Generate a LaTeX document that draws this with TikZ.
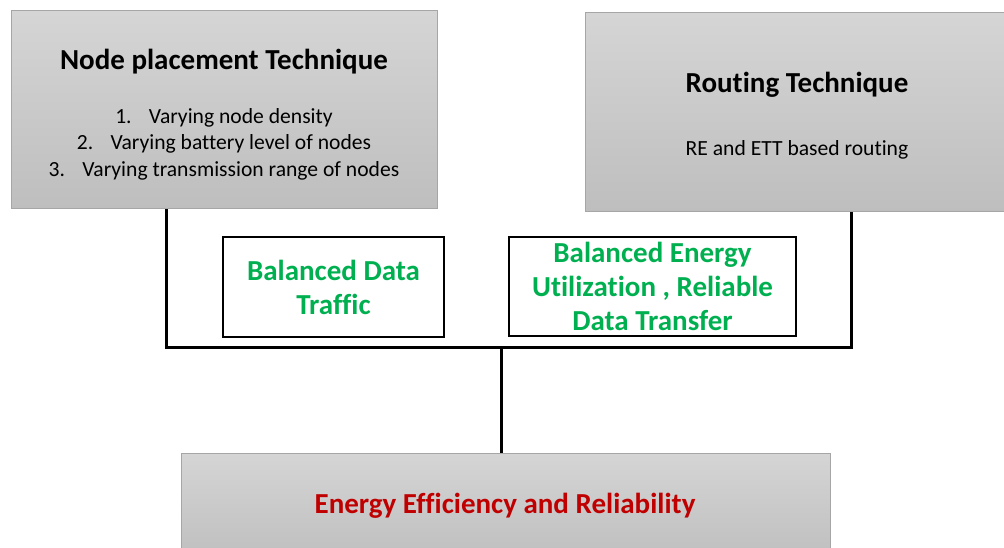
\documentclass[tikz,border=0pt]{standalone}
\usepackage{fontspec}
\setmainfont{Carlito}[Ligatures=CommonOff]
\usepackage{xcolor}
\usepackage{tikz}
\usetikzlibrary{positioning}
\definecolor{boxtop}{HTML}{D5D5D5}
\definecolor{boxbot}{HTML}{BEBEBE}
\definecolor{boxline}{HTML}{A6A6A6}
\definecolor{goodgreen}{HTML}{00B050}
\definecolor{darkred}{HTML}{C00000}

\begin{document}
\begin{tikzpicture}[x=1pt, y=-1pt,
  graybox/.style={draw=boxline, line width=1pt, top color=boxtop, bottom color=boxbot, rectangle, inner sep=0pt},
  outcome/.style={draw=black, line width=1.2pt, fill=white, inner sep=0pt, text=goodgreen, align=center, font=\bfseries\fontsize{29}{34}\selectfont},
  heading/.style={font=\bfseries\fontsize{29}{34}\selectfont},
  plain/.style={align=center, font=\fontsize{21.6}{26.5}\selectfont},
  link/.style={line width=3pt, black}]
  \clip (0,0) rectangle (1004,548);

  % technique boxes
  \node[graybox, minimum width=426pt, minimum height=198pt] (place) at (224,110) {};
  \node[heading] (placehead) at (224,62) {Node placement Technique};
  \node[plain] (placelist) at (224,144) {1.\hspace{0.8em}Varying node density\\
    2.\hspace{0.8em}Varying battery level of nodes\\
    3.\hspace{0.8em}Varying transmission range of nodes};

  \node[graybox, minimum width=429pt, minimum height=199pt] (route) at (799.5,112.5) {};
  \node[heading] (routehead) at (797,85) {Routing Technique};
  \node[plain] (routetext) at (797,150) {RE and ETT based routing};

  % outcomes
  \node[outcome, minimum width=221pt, minimum height=100pt] (traffic) at (333.5,287) {\raisebox{-2pt}{\parbox{221pt}{\centering Balanced Data\\Traffic}}};
  \node[outcome, minimum width=287pt, minimum height=99pt] (energy) at (652.5,286.5) {\raisebox{-2pt}{\parbox{287pt}{\centering Balanced Energy\\Utilization , Reliable\\Data Transfer}}};

  \node[graybox, minimum width=649pt, minimum height=110pt] (result) at (505.5,508) {};
  \node[heading, text=darkred] (resulttext) at (505,506) {Energy Efficiency and Reliability};

  % connectors
  \coordinate (jl) at (166,347);
  \coordinate (jr) at (851,347);
  \coordinate (jm) at (501,347);
  \draw[link] (place.south -| jl) -- (jl) -- (jr) -- (route.south -| jr);
  \draw[link] (jm) -- (jm |- result.north);
\end{tikzpicture}
\end{document}
